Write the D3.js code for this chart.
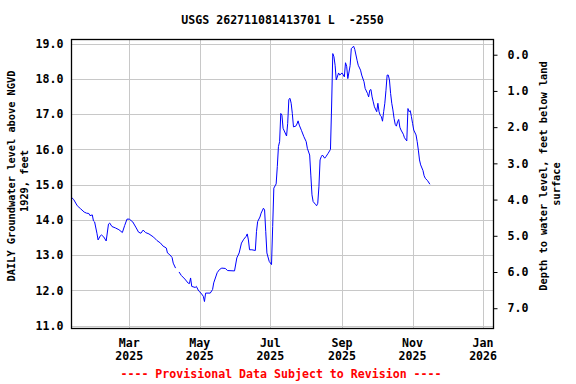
<!DOCTYPE html>
<html>
<head>
<meta charset="utf-8">
<script src="https://cdn.jsdelivr.net/npm/d3@7"></script>
<style>
    body { margin: 0; background: #fff; }
    svg { display: block; }
    text { font-family: "DejaVu Sans Mono", "Liberation Mono", monospace; font-weight: bold; }
</style>
</head>
<body>
<div id="chart"></div>
<script>
// ===== Data =====
const obsDates = [
    "2025-01-10","2025-01-12","2025-01-15","2025-01-18","2025-01-21","2025-01-23","2025-01-25","2025-01-26",
    "2025-01-28","2025-01-29","2025-01-30","2025-02-01","2025-02-02","2025-02-04","2025-02-05","2025-02-07",
    "2025-02-09","2025-02-11","2025-02-12","2025-02-14","2025-02-17","2025-02-20","2025-02-23","2025-02-25",
    "2025-02-27","2025-03-01","2025-03-04","2025-03-07","2025-03-09","2025-03-11","2025-03-13","2025-03-15",
    "2025-03-18","2025-03-22","2025-03-25","2025-03-28","2025-03-30","2025-04-02","2025-04-03","2025-04-05",
    "2025-04-07","2025-04-08","2025-04-10","2025-04-11","2025-04-13","2025-04-15","2025-04-18","2025-04-21",
    "2025-04-22","2025-04-23","2025-04-24","2025-04-27","2025-04-28","2025-04-30","2025-05-02","2025-05-04",
    "2025-05-05","2025-05-06","2025-05-10","2025-05-12","2025-05-13","2025-05-16","2025-05-18","2025-05-20",
    "2025-05-23","2025-05-25","2025-05-31","2025-06-02","2025-06-04","2025-06-06","2025-06-08","2025-06-10",
    "2025-06-11","2025-06-12","2025-06-13","2025-06-15","2025-06-18","2025-06-19","2025-06-20","2025-06-22",
    "2025-06-23","2025-06-25","2025-06-26","2025-06-27","2025-06-28","2025-06-30","2025-07-02","2025-07-03",
    "2025-07-04","2025-07-06","2025-07-07","2025-07-08","2025-07-09","2025-07-10","2025-07-11","2025-07-12",
    "2025-07-15","2025-07-16","2025-07-17","2025-07-18","2025-07-19","2025-07-20","2025-07-21","2025-07-23",
    "2025-07-24","2025-07-25","2025-07-26","2025-07-28","2025-07-30","2025-08-01","2025-08-02","2025-08-04",
    "2025-08-05","2025-08-06","2025-08-07","2025-08-09","2025-08-10","2025-08-11","2025-08-12","2025-08-13",
    "2025-08-14","2025-08-15","2025-08-17","2025-08-18","2025-08-20","2025-08-22","2025-08-23","2025-08-24",
    "2025-08-25","2025-08-26","2025-08-27","2025-08-29","2025-08-30","2025-09-01","2025-09-03","2025-09-04",
    "2025-09-05","2025-09-06","2025-09-08","2025-09-09","2025-09-11","2025-09-12","2025-09-14","2025-09-15",
    "2025-09-17","2025-09-18","2025-09-20","2025-09-21","2025-09-23","2025-09-24","2025-09-25","2025-09-26",
    "2025-09-27","2025-09-28","2025-09-29","2025-10-01","2025-10-02","2025-10-03","2025-10-04","2025-10-05",
    "2025-10-06","2025-10-07","2025-10-08","2025-10-09","2025-10-10","2025-10-11","2025-10-12","2025-10-13",
    "2025-10-14","2025-10-15","2025-10-16","2025-10-17","2025-10-18","2025-10-19","2025-10-20","2025-10-21",
    "2025-10-22","2025-10-24","2025-10-25","2025-10-27","2025-10-28","2025-10-29","2025-10-30","2025-10-31",
    "2025-11-01","2025-11-02","2025-11-04","2025-11-05","2025-11-06","2025-11-07","2025-11-08","2025-11-10",
    "2025-11-11","2025-11-12","2025-11-14","2025-11-16"
];
const obsLevels = [
    14.64, 14.57, 14.40, 14.31, 14.22, 14.19, 14.18, 14.12,
    14.14, 13.97, 13.94, 13.62, 13.43, 13.55, 13.57, 13.51,
    13.40, 13.88, 13.91, 13.81, 13.77, 13.72, 13.64, 13.84,
    14.02, 14.02, 13.94, 13.77, 13.65, 13.62, 13.71, 13.64,
    13.60, 13.51, 13.41, 13.34, 13.26, 13.20, 13.06, 13.01,
    12.93, 12.77, 12.63, null, 12.52, 12.42, 12.32, 12.20,
    12.19, 12.35, 12.11, 12.08, 12.11, 11.98, 11.92, 11.83,
    11.68, 11.92, 11.92, 12.02, 12.21, 12.50, 12.59, 12.63,
    12.62, 12.56, 12.55, 12.92, 13.06, 13.34, 13.45, 13.53,
    13.60, 13.43, 13.15, 13.15, 13.13, 13.67, 13.95, 14.08,
    14.19, 14.33, 14.28, 13.67, 13.06, 12.82, 12.73, 13.81,
    14.90, 15.02, 15.51, 16.08, 16.22, 17.02, 16.97, 16.60,
    16.38, 16.74, 17.42, 17.45, 17.31, 17.02, 16.64, 16.66,
    16.72, 16.81, 16.69, 16.53, 16.36, 16.22, 16.03, 15.84,
    15.27, 14.71, 14.52, 14.44, 14.40, 14.47, 14.94, 15.70,
    15.79, 15.84, 15.75, 15.79, 15.89, 16.00, 17.26, 18.72,
    18.63, 18.39, 17.97, 18.17, 18.11, 18.17, 18.06, 18.46,
    18.36, 18.01, 18.38, 18.86, 18.93, 18.84, 18.53, 18.39,
    18.25, 18.11, 17.92, 17.73, 17.59, 17.49, 17.68, 17.70,
    17.49, 17.35, 17.21, 17.07, 17.31, 17.07, 16.97, 16.93,
    16.80, 17.07, 17.31, 17.68, 18.11, 18.11, 17.97, 17.59,
    17.31, 17.12, 16.88, 16.71, 16.66, 16.78, 16.85, 16.63,
    16.55, 16.43, 16.33, 16.24, 17.16, 17.07, 17.10, 16.93,
    16.74, 16.55, 16.41, 16.22, 15.98, 15.70, 15.56, 15.40,
    15.25, 15.18, 15.11, 15.01
];

const levelTicks = [11, 12, 13, 14, 15, 16, 17, 18, 19];
const depthTicks = [0, 1, 2, 3, 4, 5, 6, 7];
const monthTicks = ["2025-03-01", "2025-05-01", "2025-07-01", "2025-09-01", "2025-11-01", "2026-01-01"];
const timeDomain = ["2025-01-10", "2026-01-10"];
const levelDomain = [10.915, 19.12];
const depthDomain = [-0.42, 7.56];

const titleText = "USGS 262711081413701 L  -2550";
const footText = "---- Provisional Data Subject to Revision ----";

// ===== Layout =====
const width = 576, height = 384;
const plotLeft = 71.5, plotRight = 493.5, plotTop = 39.5, plotBottom = 328.5;
const parse = d3.utcParse("%Y-%m-%d");

const svg = d3.select("#chart").append("svg")
    .attr("width", width)
    .attr("height", height);

const x = d3.scaleUtc().domain(timeDomain.map(parse)).range([plotLeft, plotRight]);
const y = d3.scaleLinear().domain(levelDomain).range([plotBottom, plotTop]);
const yDepth = d3.scaleLinear().domain(depthDomain).range([plotTop, plotBottom]);

// grid
const grid = svg.append("g").attr("stroke", "#c8c8c8").attr("stroke-width", 1);
levelTicks.forEach(v => {
    const yy = Math.round(y(v)) + 0.5;
    grid.append("line").attr("x1", plotLeft).attr("x2", plotRight).attr("y1", yy).attr("y2", yy);
});
monthTicks.forEach(m => {
    const xx = Math.round(x(parse(m))) + 0.5;
    grid.append("line").attr("x1", xx).attr("x2", xx).attr("y1", plotTop).attr("y2", plotBottom);
});

// data line
const series = obsDates.map((d, i) => ({ date: parse(d), value: obsLevels[i] }));
const line = d3.line()
    .defined(d => d.value != null)
    .x(d => x(d.date))
    .y(d => y(d.value));

svg.append("path")
    .datum(series)
    .attr("fill", "none")
    .attr("stroke", "#0000ff")
    .attr("stroke-width", 1)
    .attr("d", line);

// frame
svg.append("rect")
    .attr("x", plotLeft).attr("y", plotTop)
    .attr("width", plotRight - plotLeft).attr("height", plotBottom - plotTop)
    .attr("fill", "none")
    .attr("stroke", "#000")
    .attr("stroke-width", 1.3);

// left axis
const leftAxis = svg.append("g")
    .attr("transform", `translate(${plotLeft},0)`)
    .call(d3.axisLeft(y).tickValues(levelTicks).tickSize(0).tickPadding(8).tickFormat(d3.format(".1f")));
leftAxis.select(".domain").remove();
leftAxis.selectAll("text").style("font-size", "11.6px").attr("fill", "#000");

// right axis
const rightAxis = svg.append("g")
    .attr("transform", `translate(${plotRight},0)`)
    .call(d3.axisRight(yDepth).tickValues(depthTicks).tickSize(4).tickPadding(10).tickFormat(d3.format(".1f")));
rightAxis.select(".domain").remove();
rightAxis.selectAll("line").attr("stroke", "#000");
rightAxis.selectAll("text").style("font-size", "11.6px").attr("fill", "#000");

// bottom labels (month + year)
const bottomLabels = svg.append("g").style("font-size", "11.6px").attr("text-anchor", "middle");
monthTicks.forEach(m => {
    const dt = parse(m);
    const xx = x(dt);
    bottomLabels.append("text").attr("x", xx).attr("y", 347).text(d3.utcFormat("%b")(dt));
    bottomLabels.append("text").attr("x", xx).attr("y", 360).text(d3.utcFormat("%Y")(dt));
});

// title (keep the double space)
svg.append("text")
    .attr("x", (plotLeft + plotRight) / 2)
    .attr("y", 24)
    .attr("text-anchor", "middle")
    .style("font-size", "11.6px")
    .style("white-space", "pre")
    .text(titleText);

// axis titles
const leftTitle = svg.append("g").style("font-size", "10.3px").attr("text-anchor", "middle");
leftTitle.append("text")
    .attr("transform", "translate(15,176) rotate(-90)")
    .text("DAILY Groundwater level above NGVD");
leftTitle.append("text")
    .attr("transform", "translate(28,181) rotate(-90)")
    .text("1929, feet");

const rightTitle = svg.append("g").style("font-size", "10.3px").attr("text-anchor", "middle");
rightTitle.append("text")
    .attr("transform", "translate(547,176) rotate(-90)")
    .text("Depth to water level, feet below land");
rightTitle.append("text")
    .attr("transform", "translate(560,184) rotate(-90)")
    .text("surface");

// provisional note
svg.append("text")
    .attr("x", 281)
    .attr("y", 378)
    .attr("text-anchor", "middle")
    .attr("fill", "#ff0000")
    .style("font-size", "11.6px")
    .text(footText);
</script>
</body>
</html>
